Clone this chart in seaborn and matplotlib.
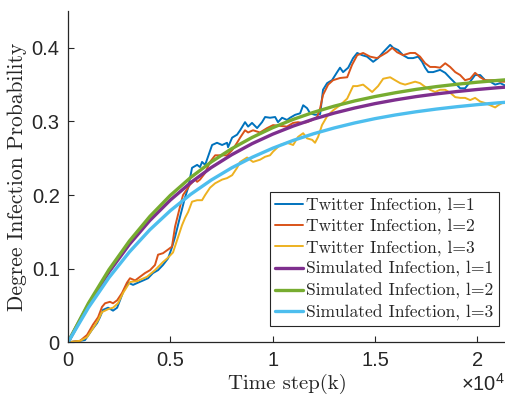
import matplotlib
matplotlib.use("Agg")
import matplotlib.pyplot as plt
import seaborn as sns
import pandas as pd

# ---- data -------------------------------------------------------------
# Twitter (empirical) infection probability, l = 1
tw1_step = [0, 590, 830, 930, 1170, 1420, 1560, 1710, 1960, 2200, 2400, 2540, 2690, 2930,
            3180, 3420, 3670, 3910, 4150, 4400, 4640, 4890, 5080, 5230, 5470, 5720, 5870,
            6060, 6310, 6450, 6550, 6700, 6840, 7040, 7280, 7530, 7770, 7820, 8020, 8260,
            8410, 8650, 8800, 8990, 9240, 9480, 9630, 9870, 10120, 10260, 10460, 10700,
            10850, 11100, 11340, 11490, 11680, 11830, 12070, 12320, 12460, 12660, 12900,
            13150, 13290, 13440, 13690, 13930, 14130, 14370, 14610, 14910, 15150, 15400,
            15640, 15740, 15890, 16130, 16370, 16620, 16860, 17110, 17300, 17450, 17600,
            17840, 18180, 18430, 18670, 18920, 19160, 19400, 19650, 19890, 20140, 20380,
            20630, 20870, 21120, 21410]
tw1_prob = [0.000, 0.002, 0.003, 0.007, 0.017, 0.026, 0.034, 0.044, 0.047, 0.043, 0.047,
            0.057, 0.068, 0.081, 0.078, 0.081, 0.084, 0.087, 0.094, 0.098, 0.105, 0.114,
            0.129, 0.143, 0.170, 0.197, 0.210, 0.237, 0.241, 0.238, 0.245, 0.241, 0.252,
            0.268, 0.271, 0.268, 0.271, 0.265, 0.278, 0.282, 0.288, 0.299, 0.293, 0.298,
            0.291, 0.299, 0.306, 0.305, 0.306, 0.299, 0.305, 0.302, 0.305, 0.309, 0.311,
            0.322, 0.318, 0.311, 0.309, 0.310, 0.343, 0.352, 0.356, 0.367, 0.373, 0.367,
            0.373, 0.386, 0.393, 0.390, 0.388, 0.381, 0.386, 0.394, 0.401, 0.404, 0.400,
            0.397, 0.390, 0.386, 0.386, 0.388, 0.381, 0.373, 0.367, 0.367, 0.370, 0.366,
            0.359, 0.352, 0.345, 0.345, 0.354, 0.363, 0.363, 0.356, 0.354, 0.350, 0.352,
            0.348]

# Twitter (empirical) infection probability, l = 2
tw2_step = [0, 590, 930, 1220, 1470, 1660, 1810, 2050, 2200, 2400, 2640, 2880, 3030, 3280,
            3520, 3760, 4010, 4250, 4400, 4640, 4890, 5080, 5230, 5470, 5620, 5960, 6210,
            6310, 6450, 6700, 6940, 7190, 7430, 7770, 8020, 8260, 8410, 8650, 8800, 9040,
            9380, 9730, 10020, 10360, 10700, 11000, 11240, 11440, 11680, 11930, 12170,
            12320, 12460, 12710, 12950, 13290, 13640, 13880, 14130, 14420, 14760, 15100,
            15350, 15590, 15840, 16080, 16370, 16720, 16960, 17200, 17450, 17690, 17940,
            18180, 18430, 18670, 18920, 19160, 19400, 19650, 19890, 20140, 20380, 20630,
            20870, 21120, 21410]
tw2_prob = [0.000, 0.002, 0.010, 0.024, 0.034, 0.048, 0.053, 0.055, 0.053, 0.057, 0.067,
            0.081, 0.087, 0.084, 0.089, 0.094, 0.098, 0.105, 0.119, 0.121, 0.126, 0.130,
            0.157, 0.184, 0.200, 0.214, 0.221, 0.218, 0.221, 0.230, 0.245, 0.254, 0.254,
            0.254, 0.261, 0.271, 0.278, 0.288, 0.285, 0.288, 0.285, 0.291, 0.295, 0.294,
            0.293, 0.298, 0.299, 0.298, 0.299, 0.302, 0.306, 0.318, 0.336, 0.350, 0.356,
            0.359, 0.360, 0.377, 0.390, 0.393, 0.388, 0.386, 0.390, 0.394, 0.400, 0.394,
            0.390, 0.393, 0.393, 0.388, 0.379, 0.374, 0.374, 0.373, 0.379, 0.374, 0.367,
            0.363, 0.356, 0.358, 0.366, 0.360, 0.356, 0.356, 0.356, 0.354, 0.354]

# Twitter (empirical) infection probability, l = 3
tw3_step = [0, 590, 930, 1220, 1470, 1660, 1960, 2200, 2440, 2690, 3030, 3370, 3860, 4250,
            4640, 4890, 5130, 5380, 5570, 5720, 5870, 6060, 6310, 6550, 6700, 6940, 7190,
            7530, 7770, 8020, 8260, 8410, 8750, 9040, 9380, 9630, 9870, 10020, 10360,
            10700, 11000, 11240, 11490, 11680, 11930, 12070, 12220, 12410, 12660, 12950,
            13290, 13640, 13930, 14130, 14420, 14860, 15150, 15400, 15740, 15980, 16230,
            16470, 16720, 16960, 17200, 17450, 17690, 17940, 18180, 18430, 18670, 18920,
            19160, 19400, 19650, 19890, 20140, 20380, 20630, 20870, 21020, 21210, 21410]
tw3_prob = [0.000, 0.002, 0.007, 0.019, 0.030, 0.041, 0.045, 0.047, 0.053, 0.067, 0.082,
            0.083, 0.089, 0.098, 0.109, 0.115, 0.122, 0.143, 0.159, 0.169, 0.177, 0.191,
            0.193, 0.193, 0.200, 0.210, 0.216, 0.221, 0.223, 0.227, 0.237, 0.245, 0.251,
            0.245, 0.248, 0.252, 0.254, 0.259, 0.268, 0.271, 0.268, 0.279, 0.284, 0.277,
            0.275, 0.271, 0.279, 0.295, 0.307, 0.315, 0.322, 0.331, 0.348, 0.348, 0.350,
            0.340, 0.348, 0.358, 0.360, 0.356, 0.352, 0.350, 0.352, 0.354, 0.352, 0.347,
            0.343, 0.340, 0.343, 0.343, 0.339, 0.333, 0.332, 0.332, 0.329, 0.332, 0.327,
            0.325, 0.322, 0.319, 0.322, 0.325, 0.325]

# Simulated infection probability, sampled every 1000 steps
sim_step = [0, 1000, 2000, 3000, 4000, 5000, 6000, 7000, 8000, 9000, 10000, 11000, 12000,
            13000, 14000, 15000, 16000, 17000, 18000, 19000, 20000, 21000, 22000]
sim1_prob = [0.0, 0.0513, 0.0954, 0.1331, 0.1655, 0.1932, 0.2170, 0.2374, 0.2548, 0.2699,
             0.2827, 0.2937, 0.3032, 0.3113, 0.3182, 0.3242, 0.3293, 0.3337, 0.3374,
             0.3406, 0.3434, 0.3458, 0.3478]
sim2_prob = [0.0, 0.0531, 0.0986, 0.1376, 0.1710, 0.1996, 0.2240, 0.2450, 0.2630, 0.2783,
             0.2915, 0.3028, 0.3124, 0.3207, 0.3278, 0.3338, 0.3390, 0.3435, 0.3473,
             0.3505, 0.3533, 0.3557, 0.3578]
sim3_prob = [0.0, 0.0472, 0.0878, 0.1227, 0.1529, 0.1788, 0.2011, 0.2204, 0.2370, 0.2513,
             0.2636, 0.2742, 0.2833, 0.2911, 0.2979, 0.3038, 0.3088, 0.3131, 0.3168,
             0.3200, 0.3228, 0.3252, 0.3273]

x_ticks = [0, 5000, 10000, 15000, 20000]
x_tick_labels = ["0", "0.5", "1", "1.5", "2"]
y_ticks = [0, 0.1, 0.2, 0.3, 0.4]
y_tick_labels = ["0", "0.1", "0.2", "0.3", "0.4"]

series = [
    ("Twitter Infection, l=1", tw1_step, tw1_prob, "#0072BD", 1.4),
    ("Twitter Infection, l=2", tw2_step, tw2_prob, "#D95319", 1.4),
    ("Twitter Infection, l=3", tw3_step, tw3_prob, "#EDB120", 1.4),
    ("Simulated Infection, l=1", sim_step, sim1_prob, "#7E2F8E", 2.4),
    ("Simulated Infection, l=2", sim_step, sim2_prob, "#77AC30", 2.4),
    ("Simulated Infection, l=3", sim_step, sim3_prob, "#4DBEEE", 2.4),
]

# ---- style ------------------------------------------------------------
sns.set_theme(style="ticks")
plt.rcParams["font.family"] = ["Liberation Sans", "DejaVu Sans"]
plt.rcParams["mathtext.fontset"] = "custom"
plt.rcParams["mathtext.rm"] = "Liberation Sans"
plt.rcParams["axes.formatter.use_mathtext"] = False
ink = "#262626"
serif = ["cmr10", "DejaVu Serif"]

fig = plt.figure(figsize=(5.06, 3.96), dpi=100)
ax = fig.add_axes([68 / 506, (396 - 342.3) / 396, 438 / 506, 331.3 / 396])

for label, xs, ys, color, lw in series:
    df = pd.DataFrame({"step": xs, "prob": ys})
    sns.lineplot(data=df, x="step", y="prob", ax=ax, color=color, linewidth=lw,
                 label=label, estimator=None, sort=False)

ax.set_xlim(0, 21400)
ax.set_ylim(0, 0.45)
ax.set_xticks(x_ticks)
ax.set_xticklabels(x_tick_labels)
ax.set_yticks(y_ticks)
ax.set_yticklabels(y_tick_labels)
ax.tick_params(direction="in", length=4, width=0.8, colors=ink, labelsize=14.5, pad=6)
for side in ("top", "right"):
    ax.spines[side].set_visible(False)
for side in ("left", "bottom"):
    ax.spines[side].set_color(ink)
    ax.spines[side].set_linewidth(0.9)

ax.set_xlabel("Time step(k)", family=serif, fontsize=15, color=ink, labelpad=3)
ax.set_ylabel("Degree Infection Probability", family=serif, fontsize=15.5, color=ink,
              labelpad=3)

fig.text(505 / 506, 1 - 391 / 396, r"$\times\mathregular{10^{4}}$", ha="right",
         va="baseline", fontsize=14.5, color=ink)

leg = ax.legend(loc="lower right", bbox_to_anchor=(0.984, 0.049), borderaxespad=0,
                prop={"family": serif, "size": 12.6}, frameon=True, fancybox=False,
                handlelength=1.6, handletextpad=0.2, labelspacing=0.31,
                borderpad=0.3, framealpha=1)
leg.get_frame().set_edgecolor(ink)
leg.get_frame().set_linewidth(0.8)
for t in leg.get_texts():
    t.set_color(ink)

fig.savefig("out.png", dpi=100)
